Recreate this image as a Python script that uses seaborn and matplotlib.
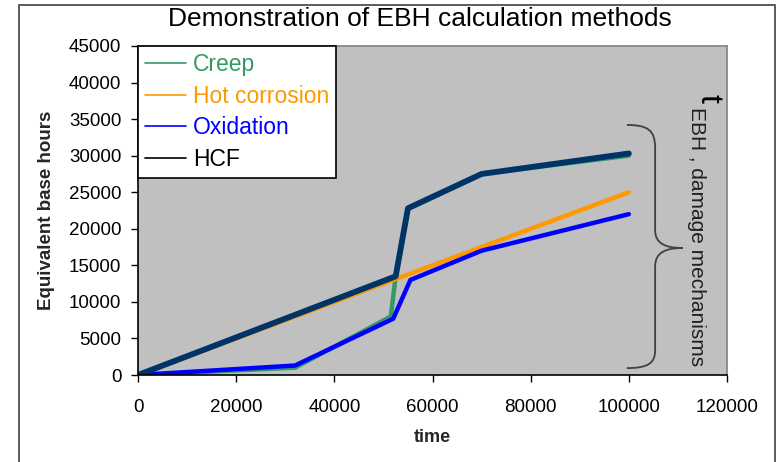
import matplotlib
matplotlib.use("Agg")
import matplotlib.pyplot as plt
import pandas
import seaborn
from matplotlib.lines import Line2D
from matplotlib.path import Path
from matplotlib.patches import PathPatch, Rectangle

# values
creep_time = [0, 32000, 51500, 52500, 55000, 70000, 100000]
creep_ebh = [0, 1000, 8000, 13500, 22800, 27500, 30000]
hot_time = [0, 100000]
hot_ebh = [0, 25000]
oxid_time = [0, 32000, 52000, 55500, 70000, 100000]
oxid_ebh = [0, 1300, 7700, 13000, 17000, 22000]
hcf_time = [0, 52500, 55000, 70000, 100000]
hcf_ebh = [0, 13500, 22800, 27500, 30300]

labels = ["Creep", "Hot corrosion", "Oxidation", "HCF"]
line_colors = ["#339966", "#FF9900", "#0000FF", "#003366"]
legend_colors = ["#339966", "#FF9900", "#0000FF", "#000000"]
widths = [3.2, 3.2, 3.2, 4.2]

series = [(creep_time, creep_ebh), (hot_time, hot_ebh), (oxid_time, oxid_ebh), (hcf_time, hcf_ebh)]

seaborn.set_theme(style="white")
plt.rcParams["font.family"] = ["Liberation Sans", "DejaVu Sans"]

fig = plt.figure(figsize=(7.76, 4.62), dpi=100)
ax = fig.add_axes([138 / 776, 87 / 462, 589 / 776, 329 / 462])
ax.set_facecolor("#C0C0C0")

for (t, v), lab, col, lw in zip(series, labels, line_colors, widths):
    df = pandas.DataFrame({"time": t, "ebh": v})
    seaborn.lineplot(data=df, x="time", y="ebh", ax=ax, color=col, linewidth=lw,
                     estimator=None, legend=False)

ax.set_xlim(0, 120000)
ax.set_ylim(0, 45000)
ax.set_xticks(range(0, 120001, 20000))
ax.set_yticks(range(0, 45001, 5000))
ax.tick_params(axis="both", direction="out", length=5, width=1, colors="black",
               labelsize=13.5, bottom=True, left=True)
ax.tick_params(axis="y", pad=7)
ax.tick_params(axis="x", pad=12)
for side in ["left", "bottom"]:
    ax.spines[side].set_color("black")
    ax.spines[side].set_linewidth(1.2)
for side in ["top", "right"]:
    ax.spines[side].set_color("#808080")
    ax.spines[side].set_linewidth(1.2)

ax.set_xlabel("time", fontsize=13, fontweight="bold", labelpad=10)
ax.set_ylabel("Equivalent base hours", fontsize=13.5, fontweight="bold", labelpad=10)

handles = [Line2D([], [], color=c, linewidth=1.2) for c in legend_colors]
leg = ax.legend(handles, labels, loc="upper left", bbox_to_anchor=(0, 1), fontsize=16.5,
                labelcolor=legend_colors, frameon=True, fancybox=False, framealpha=1,
                edgecolor="black", borderaxespad=0, handlelength=1.8, handletextpad=0.3,
                labelspacing=0.38, borderpad=0.3)
leg.get_frame().set_linewidth(1.2)

# curly brace on the right
verts = [
    (0.830, 0.760), (0.865, 0.760), (0.878, 0.745), (0.878, 0.690),
    (0.878, 0.440),
    (0.878, 0.400), (0.895, 0.386), (0.925, 0.386),
    (0.895, 0.386), (0.878, 0.372), (0.878, 0.330),
    (0.878, 0.075),
    (0.878, 0.035), (0.865, 0.021), (0.830, 0.021),
]
codes = [Path.MOVETO, Path.CURVE4, Path.CURVE4, Path.CURVE4, Path.LINETO,
         Path.CURVE4, Path.CURVE4, Path.CURVE4,
         Path.CURVE4, Path.CURVE4, Path.CURVE4, Path.LINETO,
         Path.CURVE4, Path.CURVE4, Path.CURVE4]
ax.add_patch(PathPatch(Path(verts, codes), transform=ax.transAxes, facecolor="none",
                       edgecolor="#404040", linewidth=1.3))

ax.text(0.968, 0.840, "t", transform=ax.transAxes, rotation=270, fontsize=23,
        ha="center", va="center", color="black")
ax.text(0.949, 0.815, "EBH , damage mechanisms", transform=ax.transAxes, rotation=270,
        fontsize=15, ha="center", va="top", color="#202020")

fig.text(0.541, 0.958, "Demonstration of EBH calculation methods", fontsize=19,
         ha="center", va="center", color="black")

fig.patches.append(Rectangle((19 / 776, -0.02), 756 / 776, 1.009, transform=fig.transFigure,
                             fill=False, edgecolor="#404040", linewidth=1.2))

fig.savefig("out.png", dpi=100)
